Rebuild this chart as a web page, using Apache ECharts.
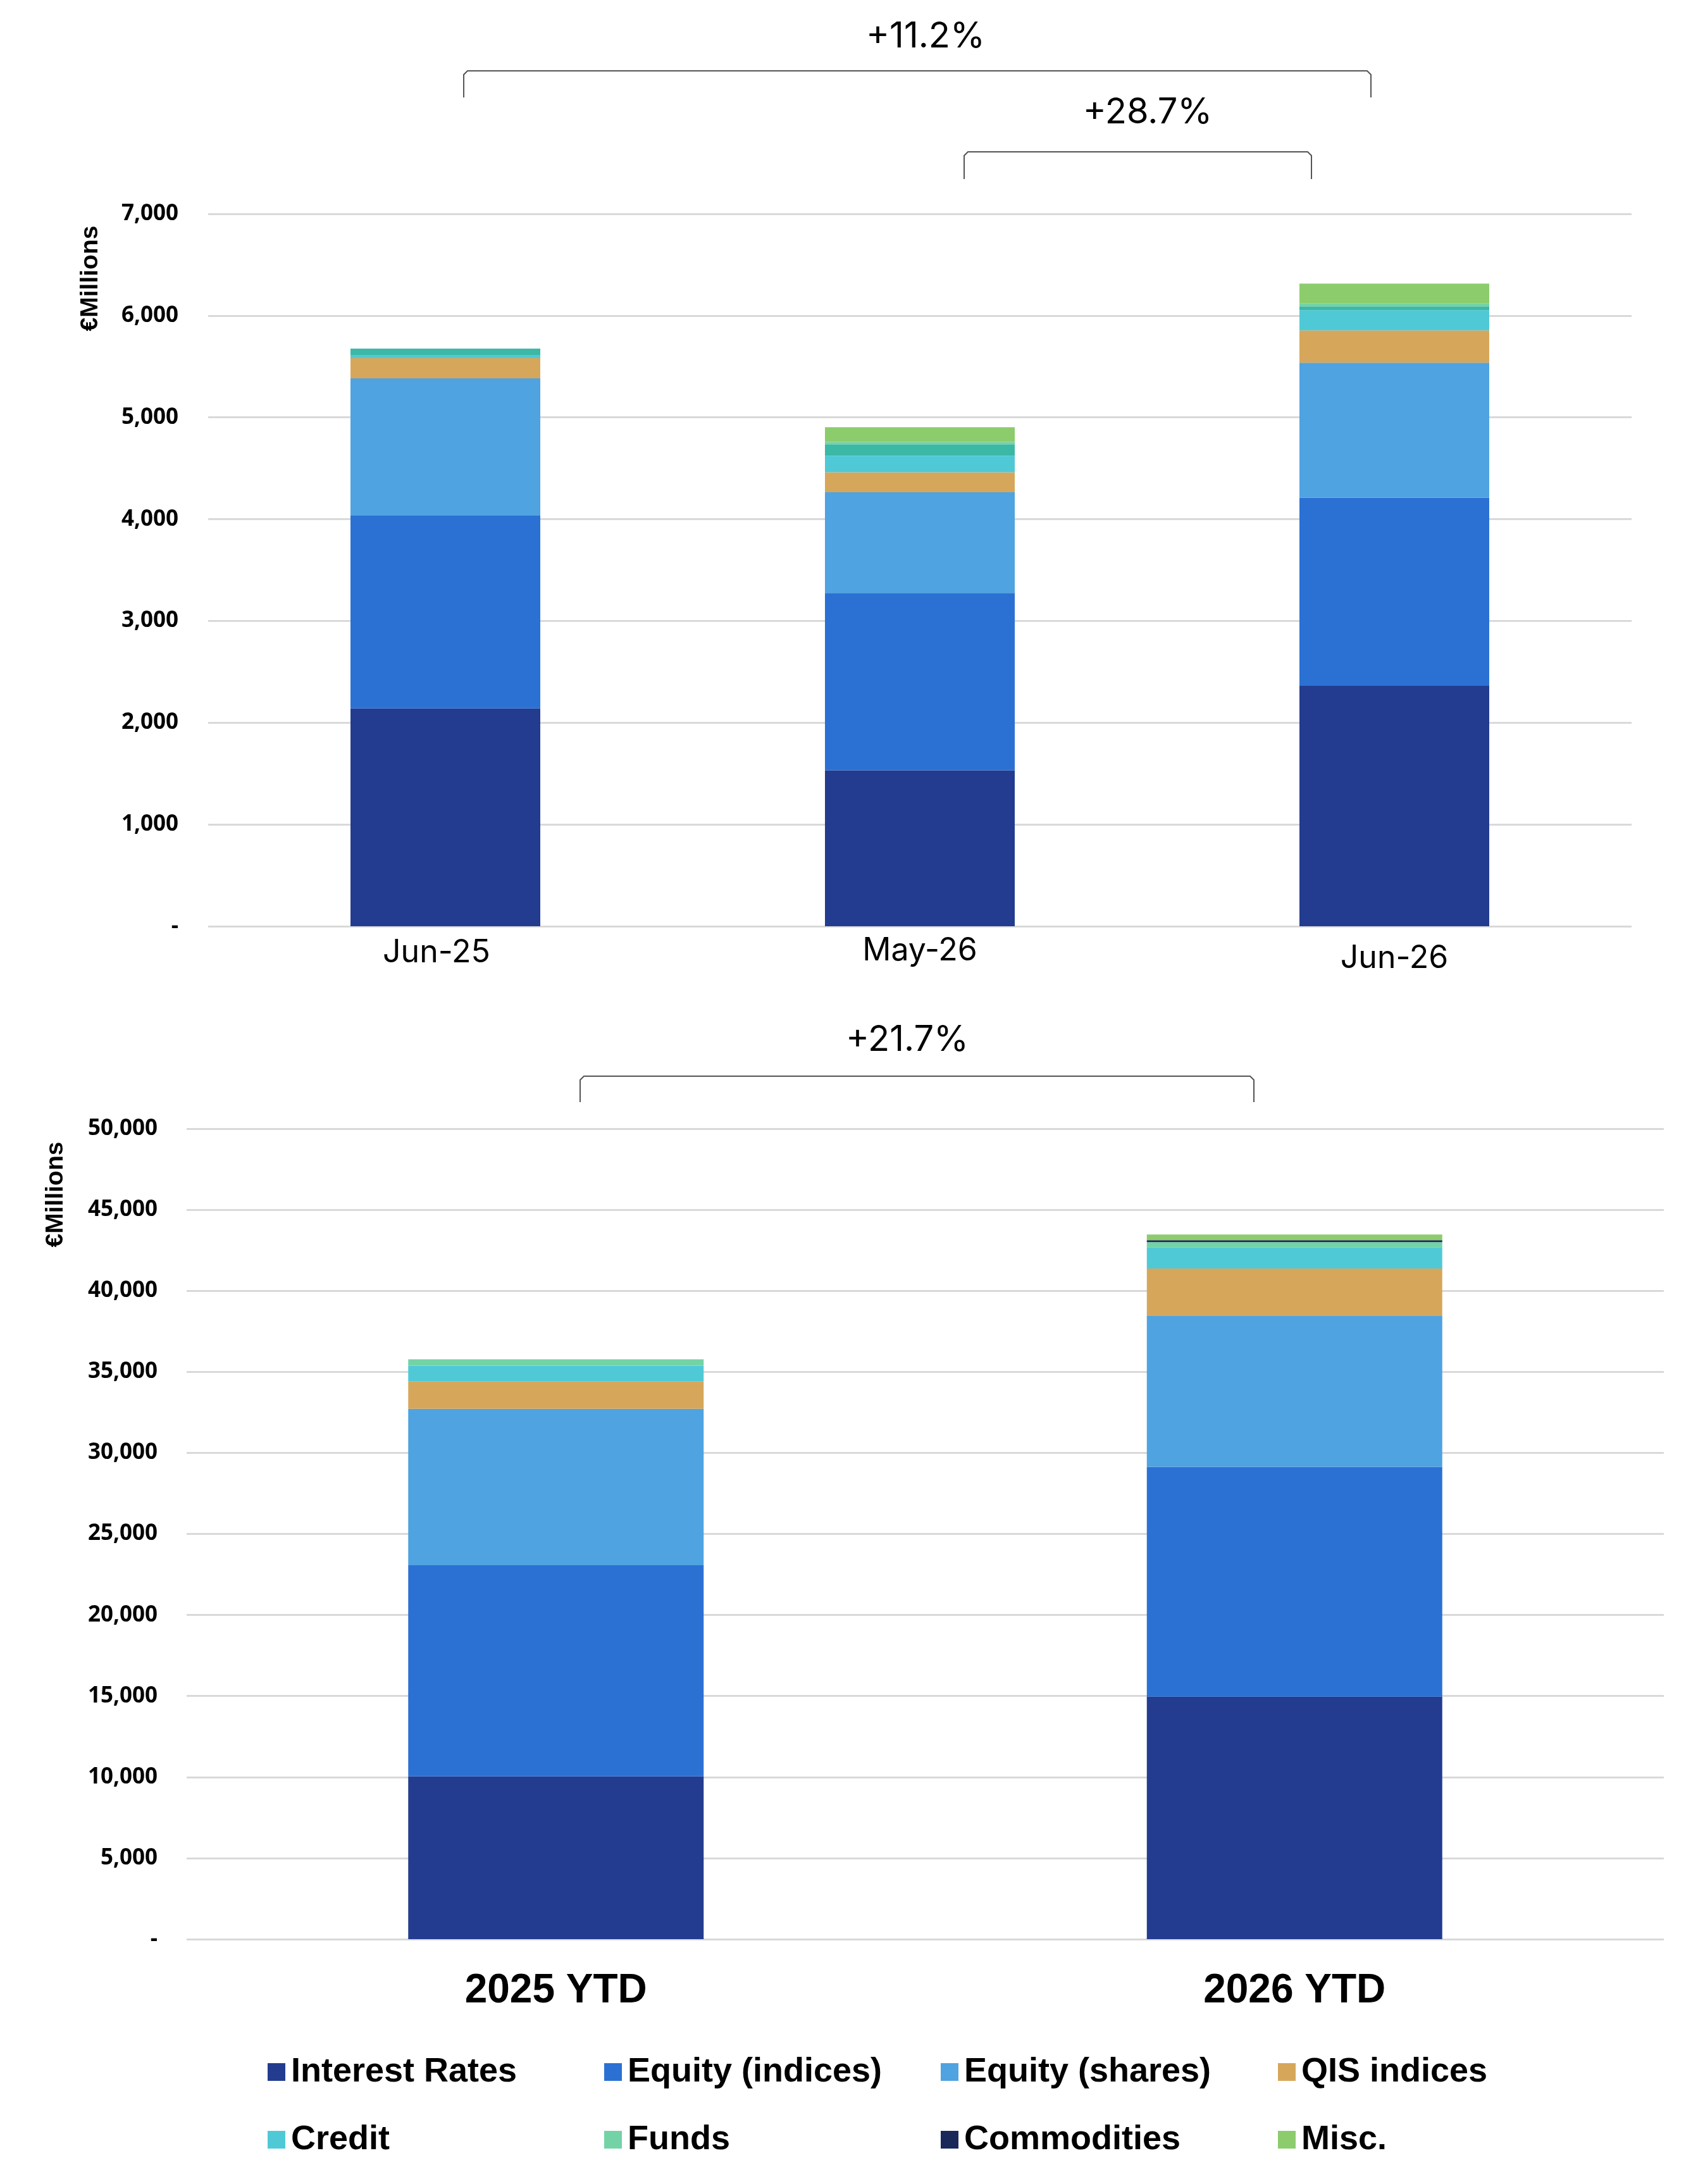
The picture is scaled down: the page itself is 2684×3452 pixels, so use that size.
<!DOCTYPE html>
<html>
<head>
<meta charset="utf-8">
<script src="https://cdn.jsdelivr.net/npm/echarts@6/dist/echarts.min.js"></script>
<style>
html,body{margin:0;padding:0;background:#fff;}
#chart{width:2684px;height:3452px;}
</style>
</head>
<body>
<div id="chart"></div>
<script>
// ---- Data ----
const topCategories = ['Jun-25', 'May-26', 'Jun-26'];
const topInterestRates = [2140, 1533, 2362];
const topEquityIndices = [1895, 1741, 1849];
const topEquityShares = [1349, 990, 1327];
const topQIS = [198, 196, 317];
const topCredit = [32, 164, 198];
const topOther = [62, 112, 38];
const topFunds = [0, 23, 31];
const topMisc = [0, 145, 193];

const bottomCategories = ['2025 YTD', '2026 YTD'];
const botInterestRates = [10040, 14960];
const botEquityIndices = [13030, 14180];
const botEquityShares = [9650, 9310];
const botQIS = [1680, 2920];
const botCredit = [980, 1320];
const botFunds = [390, 310];
const botCommodities = [0, 120];
const botMisc = [0, 350];

const topTicks = { min: 0, max: 7000, interval: 1000 };
const botTicks = { min: 0, max: 50000, interval: 5000 };

const annotations = [
  { text: '+11.2%', x: 1463, y: 58, x1: 733, x2: 2167, yt: 112, yb: 154 },
  { text: '+28.7%', x: 1814, y: 178, x1: 1524, x2: 2073, yt: 240, yb: 283 },
  { text: '+21.7%', x: 1434, y: 1644, x1: 917, x2: 1982, yt: 1701, yb: 1742 }
];

// ---- Styles ----
const colors = {
  'Interest Rates': '#233c8f',
  'Equity (indices)': '#2b71d4',
  'Equity (shares)': '#4fa3e1',
  'QIS indices': '#d6a75b',
  'Credit': '#50c9d6',
  'Other': '#3bb8a6',
  'Funds': '#73d3a6',
  'Commodities': '#1a2759',
  'Misc.': '#8ccc6d'
};

const fmt = v => v === 0 ? '-' : v.toLocaleString('en-US');

function mk(name, data, idx, stack) {
  return {
    name: name, type: 'bar', stack: stack, data: data,
    xAxisIndex: idx, yAxisIndex: idx, barWidth: '40%',
    itemStyle: { color: colors[name] },
    emphasis: { disabled: true }, animation: false
  };
}

const series = [
  mk('Interest Rates', topInterestRates, 0, 'top'),
  mk('Equity (indices)', topEquityIndices, 0, 'top'),
  mk('Equity (shares)', topEquityShares, 0, 'top'),
  mk('QIS indices', topQIS, 0, 'top'),
  mk('Credit', topCredit, 0, 'top'),
  mk('Other', topOther, 0, 'top'),
  mk('Funds', topFunds, 0, 'top'),
  mk('Misc.', topMisc, 0, 'top'),
  mk('Interest Rates', botInterestRates, 1, 'bot'),
  mk('Equity (indices)', botEquityIndices, 1, 'bot'),
  mk('Equity (shares)', botEquityShares, 1, 'bot'),
  mk('QIS indices', botQIS, 1, 'bot'),
  mk('Credit', botCredit, 1, 'bot'),
  mk('Funds', botFunds, 1, 'bot'),
  mk('Commodities', botCommodities, 1, 'bot'),
  mk('Misc.', botMisc, 1, 'bot')
];

const legendCols = [
  { left: 418, data: ['Interest Rates', 'Credit'] },
  { left: 950, data: ['Equity (indices)', 'Funds'] },
  { left: 1482, data: ['Equity (shares)', 'Commodities'] },
  { left: 2015, data: ['QIS indices', 'Misc.'] }
];

const legends = legendCols.map(c => ({
  orient: 'vertical', left: c.left, top: 3243,
  data: c.data, icon: 'rect', itemWidth: 28, itemHeight: 28, itemGap: 53,
  selectedMode: false,
  textStyle: { fontFamily: 'Liberation Sans', fontWeight: 'bold', fontSize: 54, color: '#000', lineHeight: 54, padding: [0, 0, 0, 4] }
}));

const graphics = [];
annotations.forEach(a => {
  graphics.push({
    type: 'text', x: a.x, y: a.y,
    style: { text: a.text, font: '56px Inter', fill: '#000', textAlign: 'center', textVerticalAlign: 'middle' }
  });
  graphics.push({
    type: 'polyline',
    shape: { points: [[a.x1, a.yb], [a.x1, a.yt + 6], [a.x1 + 6, a.yt], [a.x2 - 6, a.yt], [a.x2, a.yt + 6], [a.x2, a.yb]] },
    style: { stroke: '#555', lineWidth: 2, fill: null }
  });
});
graphics.push({
  type: 'text', x: 143, y: 440, rotation: Math.PI / 2,
  style: { text: '€Millions', font: 'bold 39px "Liberation Sans"', fill: '#000', textAlign: 'center', textVerticalAlign: 'middle' }
});
graphics.push({
  type: 'text', x: 88, y: 1888, rotation: Math.PI / 2,
  style: { text: '€Millions', font: 'bold 39px "Liberation Sans"', fill: '#000', textAlign: 'center', textVerticalAlign: 'middle' }
});

const yLabel = { fontFamily: 'Open Sans', fontWeight: 'bold', fontSize: 35, color: '#000', formatter: fmt };

const option = {
  backgroundColor: '#fff',
  animation: false,
  grid: [
    { left: 329, right: 105, top: 338, height: 1126 },
    { left: 295, right: 54, top: 1784, height: 1281 }
  ],
  xAxis: [
    {
      type: 'category', gridIndex: 0,
      data: [
        { value: topCategories[0], textStyle: { padding: [3, 28, 0, 0] } },
        { value: topCategories[1], textStyle: { padding: [0, 0, 0, 0] } },
        { value: topCategories[2], textStyle: { padding: [12, 0, 0, 0] } }
      ],
      axisLine: { show: false }, axisTick: { show: false },
      axisLabel: { fontFamily: 'Inter', fontSize: 50, color: '#000', margin: 14, lineHeight: 50 }
    },
    {
      type: 'category', gridIndex: 1, data: bottomCategories,
      axisLine: { show: false }, axisTick: { show: false },
      axisLabel: { fontFamily: 'Liberation Sans', fontWeight: 'bold', fontSize: 64, color: '#000', margin: 50, lineHeight: 64 }
    }
  ],
  yAxis: [
    {
      type: 'value', gridIndex: 0, min: topTicks.min, max: topTicks.max, interval: topTicks.interval,
      axisLine: { show: false }, axisTick: { show: false },
      axisLabel: Object.assign({ margin: 47 }, yLabel),
      splitLine: { lineStyle: { color: '#d9d9d9', width: 3 } }
    },
    {
      type: 'value', gridIndex: 1, min: botTicks.min, max: botTicks.max, interval: botTicks.interval,
      axisLine: { show: false }, axisTick: { show: false },
      axisLabel: Object.assign({ margin: 46 }, yLabel),
      splitLine: { lineStyle: { color: '#d9d9d9', width: 3 } }
    }
  ],
  legend: legends,
  graphic: graphics,
  series: series
};

const chart = echarts.init(document.getElementById('chart'), null, { renderer: 'canvas' });
chart.setOption(option);
</script>
</body>
</html>
